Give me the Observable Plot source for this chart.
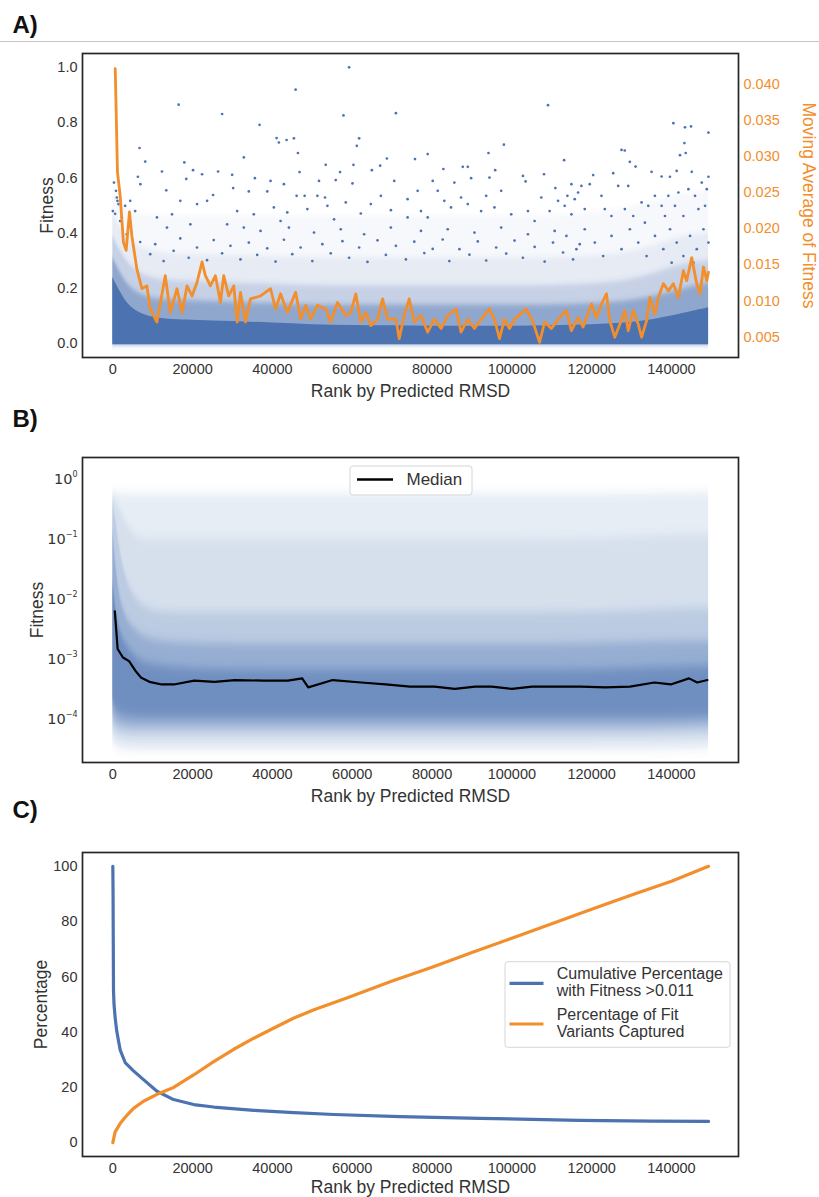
<!DOCTYPE html>
<html>
<head>
<meta charset="utf-8">
<title>Fitness by predicted RMSD rank</title>
<script src="https://cdn.jsdelivr.net/npm/d3@7"></script>
<script src="https://cdn.jsdelivr.net/npm/@observablehq/plot@0.6"></script>
<style>
  html, body { margin: 0; padding: 0; background: #ffffff; }
  #page { position: relative; width: 819px; height: 1197px; overflow: hidden; background: #ffffff; }
  #page > svg { position: absolute; left: 0; }
</style>
</head>
<body>
<div id="page"></div>
<script>
// ---------- shared ----------
const panelLabels = ["A)", "B)", "C)"];
const rankTicks = [0, 20000, 40000, 60000, 80000, 100000, 120000, 140000];
const xLabel = "Rank by Predicted RMSD";

// ---------- panel A: fitness (linear) + moving average ----------
const fitnessTicksA = [0, 0.2, 0.4, 0.6, 0.8, 1.0];
const movingTicksA = [0.005, 0.010, 0.015, 0.020, 0.025, 0.030, 0.035, 0.040];

// density of the crowded low-fitness cloud, as upper edges of nested bands
const bandRankA = [0, 1000, 2500, 5000, 10000, 20000, 30000, 40000, 50000, 60000, 70000, 80000, 90000, 100000, 110000, 120000, 130000, 137000, 143000, 149300];
const solidTopA = [0.24, 0.21, 0.17, 0.12, 0.09, 0.085, 0.08, 0.075, 0.068, 0.065, 0.065, 0.063, 0.063, 0.063, 0.065, 0.068, 0.075, 0.09, 0.11, 0.13];
const denseTopA = [0.31, 0.28, 0.24, 0.19, 0.16, 0.155, 0.15, 0.145, 0.14, 0.14, 0.14, 0.14, 0.14, 0.14, 0.14, 0.145, 0.155, 0.175, 0.20, 0.22];
const midTopA   = [0.39, 0.36, 0.32, 0.27, 0.23, 0.225, 0.22, 0.215, 0.21, 0.21, 0.21, 0.21, 0.21, 0.21, 0.21, 0.215, 0.23, 0.26, 0.29, 0.30];
const lightTopA = [0.47, 0.44, 0.41, 0.36, 0.33, 0.32, 0.32, 0.315, 0.31, 0.31, 0.31, 0.31, 0.31, 0.31, 0.31, 0.315, 0.33, 0.36, 0.39, 0.40];
const faintTopA = [0.55, 0.53, 0.50, 0.47, 0.46, 0.46, 0.46, 0.46, 0.46, 0.46, 0.46, 0.46, 0.46, 0.46, 0.46, 0.47, 0.49, 0.52, 0.54, 0.55];

// individual high-fitness variants [rank, fitness]
const sparsePointsA = [
  [16490,0.865],[27390,0.831],[36770,0.792],[41040,0.744],[41620,0.728],[43550,0.737],
  [6690,0.708],[8120,0.659],[17920,0.656],[12310,0.623],[20100,0.628],[22360,0.613],
  [26380,0.623],[29900,0.611],[32830,0.674],[35590,0.599],[39530,0.589],[6280,0.604],
  [18400,0.596],[13390,0.555],[6900,0.577],[25130,0.538],[30160,0.563],[34080,0.551],
  [38700,0.551],[42870,0.577],[16910,0.517],[21110,0.505],[23620,0.517],[11060,0.457],
  [14830,0.468],[31160,0.480],[35330,0.468],[40360,0.493],[13570,0.420],[19430,0.432],
  [28650,0.432],[32830,0.420],[37020,0.408],[42040,0.444],
  [300,0.583],[800,0.553],[0,0.480],[1160,0.517],[580,0.470],[995,0.529],[1410,0.505],
  [2250,0.457],[3090,0.499],[4350,0.517],[5600,0.480],
  [1835,0.444],[3510,0.396],[6860,0.368],[9370,0.324],[10630,0.360],[12730,0.299],
  [15240,0.336],[16910,0.381],[19010,0.311],[21100,0.348],[23610,0.302],[25290,0.375],
  [27380,0.327],[29480,0.354],[31990,0.305],[34080,0.366],[36180,0.321],[38690,0.345],
  [40790,0.297],[42880,0.376],
  [59210,1.000],[45810,0.919],[109060,0.863],[57800,0.826],[70940,0.834],
  [45390,0.743],[61720,0.743],[61140,0.716],[98010,0.720],[46390,0.690],[78910,0.686],
  [94140,0.690],[68680,0.670],[113090,0.664],[75720,0.668],[53350,0.647],[60310,0.647],
  [67000,0.644],[87700,0.640],[88960,0.640],[64910,0.628],[46800,0.621],[56950,0.621],
  [95820,0.628],[108060,0.613],[82830,0.632],[102780,0.607],
  [51670,0.589],[55860,0.592],[60060,0.580],[70520,0.589],[80170,0.589],[89790,0.599],
  [94390,0.601],[103440,0.587],[114920,0.577],
  [53180,0.529],[51260,0.535],[67170,0.535],[76390,0.553],[85590,0.583],[97330,0.553],
  [110900,0.563],[113920,0.535],[46060,0.535],[48070,0.535],[73880,0.523],[81420,0.553],
  [87270,0.529],[93560,0.535],[107380,0.529],[116600,0.547],
  [43720,0.475],[48750,0.487],[53780,0.499],[55440,0.450],[58380,0.511],[62140,0.471],
  [64660,0.505],[69690,0.483],[73880,0.457],[77220,0.480],[78910,0.457],[83080,0.517],
  [84760,0.493],[88960,0.505],[92300,0.480],[95640,0.493],[99840,0.468],[104040,0.480],
  [105700,0.444],[109470,0.480],[111580,0.517],[114920,0.468],
  [44970,0.324],[47070,0.348],[49999,0.299],[52510,0.360],[54610,0.327],[57540,0.371],
  [59210,0.311],[61730,0.348],[63820,0.296],[66330,0.374],[68430,0.321],[70940,0.354],
  [73450,0.305],[75550,0.369],[78060,0.328],[80160,0.343],[82670,0.377],[84340,0.299],
  [86860,0.342],[89370,0.322],[91460,0.370],[93560,0.301],[96070,0.348],[98580,0.326],
  [100680,0.373],[102770,0.311],[105710,0.350],[108220,0.297],[110310,0.366],[112830,0.330],
  [115340,0.305],[117010,0.360],
  [44130,0.420],[50420,0.402],[57120,0.414],[62980,0.396],[69680,0.420],[77220,0.408],
  [83930,0.414],[90630,0.402],[97330,0.420],[104030,0.396],[110730,0.408],
  [140480,0.798],[143390,0.783],[144900,0.786],[149270,0.764],[143240,0.726],[142140,0.682],
  [143570,0.690],[127490,0.701],[128300,0.699],[129570,0.658],[131000,0.641],[135020,0.622],
  [137540,0.605],[139620,0.604],[141300,0.625],[145080,0.622],[149270,0.604],[125400,0.617],
  [120380,0.610],[117430,0.571],[119520,0.577],[122460,0.535],[126650,0.571],[129160,0.571],
  [132510,0.511],[134190,0.499],[135850,0.535],[137540,0.499],[139220,0.535],[141730,0.547],
  [144250,0.559],[145910,0.535],[147590,0.583],[148850,0.559],[146760,0.487],[148420,0.499],
  [140880,0.499],[142990,0.462],[138370,0.462],[113240,0.499],[115750,0.523],[118270,0.487],
  [123290,0.487],[124970,0.462],[128320,0.487],[130420,0.462],[133340,0.438],
  [113670,0.390],[116180,0.342],[118270,0.414],[120790,0.366],[122880,0.317],[124980,0.390],
  [127490,0.342],[129580,0.414],[131680,0.366],[133770,0.317],[135870,0.390],[137960,0.342],
  [139640,0.414],[141310,0.366],[142990,0.317],[144660,0.390],[146340,0.342],[148010,0.414],
  [149270,0.366],[145500,0.293],[140050,0.293]
];

// moving average of fitness along the ranking
const movingRankA = [600,830,1160,1830,2660,3340,4170,4770,6030,7290,8540,9370,11060,13140,14400,16080,17340,18600,19850,21110,22370,23200,24450,25710,26970,27790,29050,30310,31160,31990,33250,34500,37020,39530,40790,42040,43720,45810,47070,48320,49580,51260,53350,54600,56290,58380,59630,60890,62140,63400,64660,66340,67600,68850,70940,71770,73030,74280,75540,77220,78910,80570,82250,83930,86020,87270,88960,90620,92300,94390,95640,96900,98160,99410,100670,103610,105290,106950,108210,109890,112410,113670,114920,116600,117860,119950,121200,122460,123720,124550,125800,127060,128320,129160,130420,131680,132510,133770,134600,135860,136710,137960,139220,140470,141730,142990,143820,145080,146330,147160,148020,148850,149270];
const movingValueA = [0.0421,0.0365,0.0278,0.0246,0.0181,0.0170,0.0223,0.0190,0.0144,0.0117,0.0121,0.0089,0.0071,0.0135,0.0084,0.0117,0.0084,0.0121,0.0107,0.0126,0.0154,0.0135,0.0121,0.0135,0.0098,0.0135,0.0107,0.0121,0.0071,0.0112,0.0071,0.0103,0.0107,0.0117,0.0089,0.0110,0.0084,0.0112,0.0075,0.0094,0.0075,0.0094,0.0089,0.0071,0.0098,0.0080,0.0084,0.0110,0.0071,0.0084,0.0066,0.0075,0.0103,0.0075,0.0075,0.0048,0.0080,0.0103,0.0071,0.0080,0.0057,0.0075,0.0062,0.0080,0.0089,0.0057,0.0075,0.0062,0.0075,0.0089,0.0075,0.0048,0.0075,0.0062,0.0075,0.0089,0.0071,0.0043,0.0071,0.0062,0.0080,0.0087,0.0059,0.0077,0.0064,0.0096,0.0077,0.0096,0.0110,0.0073,0.0050,0.0068,0.0087,0.0059,0.0087,0.0068,0.0050,0.0073,0.0105,0.0082,0.0105,0.0124,0.0114,0.0124,0.0105,0.0142,0.0128,0.0160,0.0124,0.0110,0.0147,0.0128,0.0140];

// ---------- panel B: fitness (log) + running median ----------
const logTicksB = [1e-4, 1e-3, 1e-2, 1e-1, 1];
const cloudRankB = [0, 800, 2000, 4000, 7000, 11000, 20000, 40000, 60000, 80000, 100000, 120000, 140000, 149300];
const hazeLowB   = [4e-5, 3.5e-5, 3.2e-5, 3e-5, 3e-5, 3e-5, 3e-5, 3e-5, 3e-5, 3e-5, 3e-5, 3e-5, 3e-5, 3.2e-5];
const hazeHighB  = [0.6, 0.6, 0.58, 0.57, 0.57, 0.57, 0.57, 0.57, 0.57, 0.57, 0.57, 0.57, 0.58, 0.6];
const spreadLowB  = [6e-5, 5e-5, 4.5e-5, 4.2e-5, 4.2e-5, 4.2e-5, 4.2e-5, 4.2e-5, 4.2e-5, 4.2e-5, 4.2e-5, 4.2e-5, 4.2e-5, 4.5e-5];
const spreadHighB = [0.5, 0.45, 0.3, 0.15, 0.1, 0.1, 0.1, 0.1, 0.1, 0.1, 0.1, 0.1, 0.12, 0.12];
const bulkLowB  = [8e-5, 6.5e-5, 6e-5, 5.7e-5, 5.7e-5, 5.7e-5, 5.7e-5, 5.7e-5, 5.7e-5, 5.7e-5, 5.7e-5, 5.7e-5, 5.7e-5, 6e-5];
const bulkHighB = [0.4, 0.2, 0.05, 0.015, 0.008, 0.006, 0.006, 0.006, 0.006, 0.006, 0.006, 0.006, 0.007, 0.007];
const denseLowB  = [1.2e-4, 9e-5, 8e-5, 7.5e-5, 7.5e-5, 7.5e-5, 7.5e-5, 7.5e-5, 7.5e-5, 7.5e-5, 7.5e-5, 7.5e-5, 7.5e-5, 8e-5];
const denseHighB = [0.15, 0.03, 0.008, 0.004, 0.0025, 0.002, 0.0018, 0.0018, 0.0018, 0.0018, 0.0018, 0.0018, 0.002, 0.002];
const coreLowB  = [2e-4, 1.4e-4, 1.2e-4, 1.1e-4, 1.05e-4, 1.05e-4, 1.05e-4, 1.05e-4, 1.05e-4, 1.05e-4, 1.05e-4, 1.05e-4, 1.05e-4, 1.1e-4];
const coreHighB = [0.02, 0.006, 0.0025, 0.0015, 0.0009, 0.0008, 0.00068, 0.00066, 0.00066, 0.00066, 0.00066, 0.00066, 0.00075, 0.00078];

const medianRankB = [500,1210,2540,4070,5600,7130,9180,12240,15300,20400,25500,30610,37750,43880,47450,48980,55100,62250,68370,74490,80620,85720,90820,94910,100010,105110,112260,117360,123480,129600,135730,139810,144400,146450,149000];
const medianFitnessB = [0.0063,0.00148,0.00107,0.00093,0.00065,0.00049,0.00042,0.00038,0.00038,0.00044,0.00042,0.00045,0.00044,0.00044,0.00048,0.00034,0.00045,0.00041,0.00038,0.00035,0.00035,0.00032,0.00035,0.00035,0.00032,0.00035,0.00035,0.00035,0.00034,0.00035,0.00041,0.00038,0.00048,0.00041,0.00045];
const medianLabel = "Median";

// ---------- panel C: cumulative percentages ----------
const percentTicksC = [0, 20, 40, 60, 80, 100];
const fitShareRankC  = [0, 60, 120, 170, 300, 600, 1000, 1830, 3090, 5180, 7690, 11060, 15230, 20250, 25280, 35330, 45390, 55440, 72000, 92000, 117000, 135000, 149300];
const fitShareValueC = [100, 90, 70, 55, 50, 45, 40.2, 33.6, 29.0, 26.0, 22.8, 18.6, 15.6, 13.8, 12.9, 11.7, 10.9, 10.2, 9.4, 8.8, 8.1, 7.8, 7.7];
const capturedRankC  = [0, 580, 1830, 3520, 5180, 7690, 11060, 15230, 20250, 25280, 30310, 35330, 40360, 45390, 50410, 58800, 70000, 80000, 90000, 100000, 110000, 120000, 130000, 140000, 149300];
const capturedValueC = [0, 3.9, 6.9, 9.9, 12.4, 15.0, 17.5, 20.0, 24.5, 29.3, 33.8, 37.8, 41.5, 45.1, 48.1, 52.4, 58.5, 63.5, 68.8, 74.0, 79.2, 84.5, 89.6, 94.6, 100];
const legendLabelsC = [["Cumulative Percentage", "with Fitness >0.011"], ["Percentage of Fit", "Variants Captured"]];

// ---------- styling ----------
const blue = "#4c72b0";
const orange = "#f28e2b";
const ink = "#333333";
const fontFam = '"Liberation Sans", Arial, Helvetica, sans-serif';
const xDomain = [-7600, 156800];
const W = 819, ML = 82, MR = 81;

const page = d3.select("#page");

// headings and the rule under the first one
const bg = page.append("svg").attr("width", W).attr("height", 1197).style("top", "0px");
bg.append("line").attr("x1", 0).attr("x2", W).attr("y1", 41.5).attr("y2", 41.5)
  .attr("stroke", "#c4c4c4").attr("stroke-width", 1);
[33.3, 426.7, 818.3].forEach((y, i) => {
  bg.append("text").attr("x", 12.5).attr("y", y).text(panelLabels[i])
    .attr("font-family", fontFam).attr("font-weight", "bold").attr("font-size", 24).attr("fill", "#111");
});

function place(svg, top) {
  svg.style.position = "absolute";
  svg.style.left = "0px";
  svg.style.top = top + "px";
  svg.style.overflow = "visible";
  document.getElementById("page").appendChild(svg);
  return svg;
}

// soft vertical spreading for the crowded clouds
function addBlur(svg, id, sx, sy) {
  d3.select(svg).insert("defs", ":first-child")
    .append("filter").attr("id", id)
    .attr("x", "-5%").attr("y", "-20%").attr("width", "110%").attr("height", "140%")
    .append("feGaussianBlur").attr("stdDeviation", `${sx} ${sy}`);
}

const baseStyle = (color) => ({fontFamily: fontFam, fontSize: "14.5px", color, background: "transparent", overflow: "visible"});
const rows = (xs, ...cols) => xs.map((x, i) => ({x, v: cols.map(c => c[i])}));
const xAxis = () => Plot.axisX({ticks: rankTicks, tickSize: 0, tickPadding: 6, tickFormat: d3.format("d"), label: null});
const frame = () => Plot.frame({stroke: "#262626", strokeWidth: 1.7});
const xTitle = (dy) => Plot.text([xLabel], {text: d => d, frameAnchor: "bottom", lineAnchor: "middle", textAnchor: "middle", dy, fontSize: 17.5, fill: ink});
const yTitle = (t, dx) => Plot.text([t], {text: d => d, frameAnchor: "left", lineAnchor: "middle", textAnchor: "middle", rotate: -90, dx, fontSize: 17.5, fill: ink});

// ---------- A ----------
// nested bands from the floor up: the overlaps build the density gradient
const floorA = bandRankA.map(() => -0.004);
const bandsA = [
  [faintTopA, 0.05],
  [lightTopA, 0.095],
  [midTopA, 0.21],
  [denseTopA, 0.44]
];
const plotA = Plot.plot({
  width: W, height: 370, marginTop: 8, marginBottom: 58, marginLeft: ML, marginRight: MR,
  style: baseStyle(ink),
  x: {domain: xDomain},
  y: {domain: [-0.05, 1.05]},
  marks: [
    ...bandsA.map(([hi, a]) => Plot.areaY(rows(bandRankA, floorA, hi), {
      x: "x", y1: d => d.v[0], y2: d => d.v[1], fill: blue, fillOpacity: a, curve: "basis"
    })),
    Plot.areaY(rows(bandRankA, floorA, solidTopA), {x: "x", y1: d => d.v[0], y2: d => d.v[1], fill: blue, curve: "basis"}),
    Plot.dot(sparsePointsA, {x: d => d[0], y: d => d[1], r: 1.35, fill: blue}),
    xAxis(),
    Plot.axisY({ticks: fitnessTicksA, tickSize: 0, tickPadding: 5, tickFormat: d3.format(".1f"), label: null}),
    frame(),
    yTitle("Fitness", -35),
    xTitle(33.5)
  ]
});
place(plotA, 45);
addBlur(plotA, "spreadA", 0.4, 2.4);
d3.select(plotA).selectAll('g[aria-label="area"]').filter((d, i) => i < bandsA.length).attr("filter", "url(#spreadA)");

const plotA2 = Plot.plot({
  width: W, height: 370, marginTop: 8, marginBottom: 58, marginLeft: ML, marginRight: MR,
  style: baseStyle(orange),
  x: {domain: xDomain, axis: null},
  y: {domain: [0.0022, 0.0442]},
  marks: [
    Plot.line(rows(movingRankA, movingValueA), {x: "x", y: d => d.v[0], stroke: orange, strokeWidth: 2.8, strokeLinejoin: "round"}),
    Plot.axisY({anchor: "right", ticks: movingTicksA, tickSize: 0, tickPadding: 5, tickFormat: d3.format(".3f"), label: null}),
    Plot.text(["Moving Average of Fitness"], {text: d => d, frameAnchor: "right", lineAnchor: "middle", textAnchor: "middle", rotate: 90, dx: 70, fontSize: 17.5, fill: orange})
  ]
});
place(plotA2, 45);

// ---------- B ----------
const layersB = [
  [hazeLowB, hazeHighB, 0.13],
  [spreadLowB, spreadHighB, 0.11],
  [bulkLowB, bulkHighB, 0.19],
  [denseLowB, denseHighB, 0.33],
  [coreLowB, coreHighB, 0.5]
];
const expLabel = d => "10^" + String(Math.round(Math.log10(d))).replace("-", "\u2212");
const plotB = Plot.plot({
  width: W, height: 371, marginTop: 8, marginBottom: 58, marginLeft: ML, marginRight: MR,
  style: baseStyle(ink),
  x: {domain: xDomain},
  y: {type: "log", domain: [Math.pow(10, -4.72), Math.pow(10, 0.36)]},
  marks: [
    ...layersB.map(([lo, hi, a]) => Plot.areaY(rows(cloudRankB, lo, hi), {
      x: "x", y1: d => d.v[0], y2: d => d.v[1], fill: blue, fillOpacity: a, curve: "basis"
    })),
    Plot.line(rows(medianRankB, medianFitnessB), {x: "x", y: d => d.v[0], stroke: "#000", strokeWidth: 2.2, strokeLinejoin: "round"}),
    xAxis(),
    Plot.axisY({ticks: logTicksB, tickSize: 0, tickPadding: 5, tickFormat: expLabel, label: null}),
    frame(),
    yTitle("Fitness", -45),
    xTitle(33.5)
  ]
});
place(plotB, 449);
addBlur(plotB, "hazeB", 0.6, 5);
d3.select(plotB).selectAll('g[aria-label="area"]').attr("filter", "url(#hazeB)");

// powers of ten with raised exponents
d3.select(plotB).selectAll("text").each(function () {
  const m = /^10\^(.+)$/.exec(this.textContent);
  if (!m) return;
  const t = d3.select(this).text(null).attr("font-family", '"DejaVu Sans", sans-serif');
  t.append("tspan").text("10");
  t.append("tspan").attr("dy", -6.5).attr("font-size", "8px").text(m[1]);
});

// legend
const legB = d3.select(plotB).append("g").attr("font-family", fontFam).attr("text-anchor", "start");
legB.append("rect").attr("x", 350).attr("y", 17).attr("width", 122).attr("height", 29).attr("rx", 3)
  .attr("fill", "#fff").attr("fill-opacity", 0.85).attr("stroke", "#d6d6d6");
legB.append("line").attr("x1", 357).attr("x2", 393).attr("y1", 30.5).attr("y2", 30.5)
  .attr("stroke", "#000").attr("stroke-width", 2.4);
legB.append("text").attr("x", 406.5).attr("y", 30.5).attr("dy", "0.35em").attr("font-size", 17)
  .attr("fill", ink).text(medianLabel);

// ---------- C ----------
const plotC = Plot.plot({
  width: W, height: 353, marginTop: 8, marginBottom: 41, marginLeft: ML, marginRight: MR,
  style: baseStyle(ink),
  x: {domain: xDomain},
  y: {domain: [-5, 105]},
  marks: [
    Plot.line(rows(fitShareRankC, fitShareValueC), {x: "x", y: d => d.v[0], stroke: blue, strokeWidth: 3.2, strokeLinejoin: "round"}),
    Plot.line(rows(capturedRankC, capturedValueC), {x: "x", y: d => d.v[0], stroke: orange, strokeWidth: 3.2, strokeLinejoin: "round"}),
    xAxis(),
    Plot.axisY({ticks: percentTicksC, tickSize: 0, tickPadding: 5, tickFormat: d3.format("d"), label: null}),
    frame(),
    yTitle("Percentage", -41),
    xTitle(30.5)
  ]
});
place(plotC, 844);

const legC = d3.select(plotC).append("g").attr("font-family", fontFam).attr("text-anchor", "start");
legC.append("rect").attr("x", 505).attr("y", 117.7).attr("width", 225).attr("height", 85.6).attr("rx", 3)
  .attr("fill", "#fff").attr("fill-opacity", 0.85).attr("stroke", "#d6d6d6");
[[blue, 139.3, [135.3, 152]], [orange, 180, [176, 192.7]]].forEach(([c, ly, bases], i) => {
  legC.append("line").attr("x1", 509.5).attr("x2", 543.5).attr("y1", ly).attr("y2", ly)
    .attr("stroke", c).attr("stroke-width", 3.2);
  legendLabelsC[i].forEach((s, j) => {
    legC.append("text").attr("x", 556.7).attr("y", bases[j]).attr("font-size", 16).attr("fill", ink).text(s);
  });
});
</script>
</body>
</html>
